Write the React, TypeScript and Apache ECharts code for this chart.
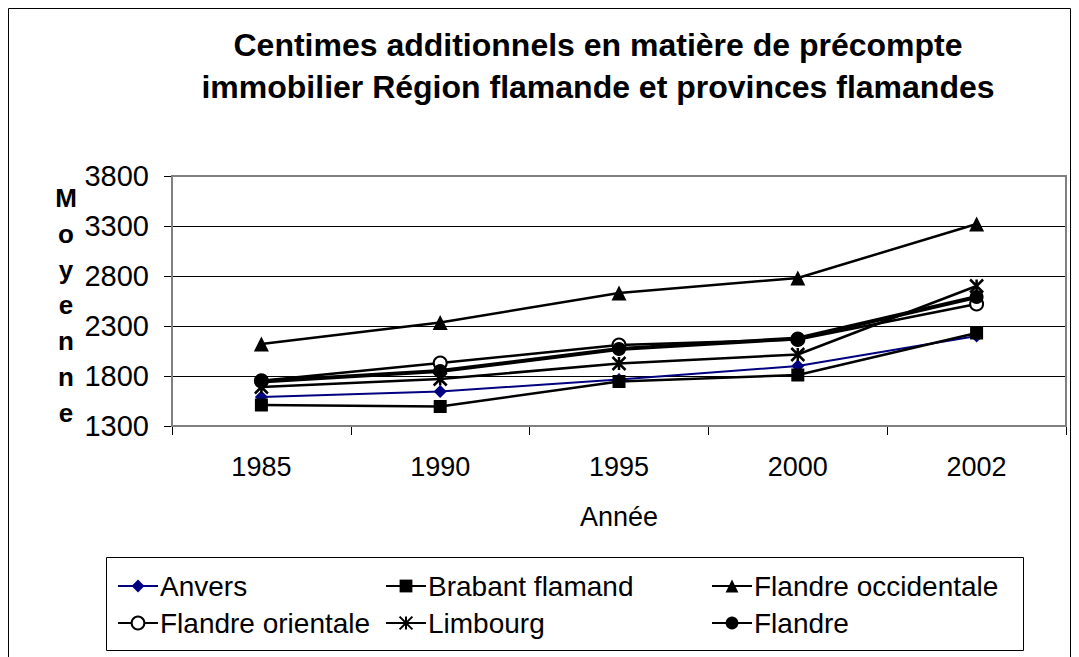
import React, { useEffect, useRef } from "react";
import * as echarts from "echarts";

const years = ["1985", "1990", "1995", "2000", "2002"];
const anvers = [1590, 1645, 1765, 1900, 2200];
const brabant = [1510, 1495, 1745, 1810, 2230];
const flandreOcc = [2120, 2335, 2630, 2780, 3320];
const flandreOr = [1752, 1930, 2110, 2165, 2520];
const limbourg = [1690, 1770, 1925, 2015, 2700];
const flandre = [1745, 1850, 2070, 2175, 2590];

const titleText = "Centimes additionnels en matière de précompte\nimmobilier Région flamande et provinces flamandes";
const yName = "Moyenne";
const xName = "Année";

const FONT = "'Liberation Sans', Arial, sans-serif";
const asterisk = "path://M0,0L10,10M10,0L0,10M5,0L5,10";

export default function App() {
  const ref = useRef<HTMLDivElement>(null);
  useEffect(() => {
    if (!ref.current) return;
    const chart = echarts.init(ref.current, undefined, { renderer: "svg" });
    const base = (name: string, data: number[], color: string, symbol: string, size: number, width: number, extra: any = {}) => ({
      name,
      type: "line",
      data,
      symbol,
      symbolSize: size,
      showAllSymbol: true,
      lineStyle: { color, width },
      itemStyle: { color, borderColor: color, borderWidth: 0 },
      emphasis: { disabled: true },
      ...extra,
    });
    chart.setOption({
      animation: false,
      backgroundColor: "#ffffff",
      title: {
        text: titleText,
        left: 593,
        top: 19,
        textAlign: "center",
        textStyle: { fontFamily: FONT, fontWeight: "bold", fontSize: 32, lineHeight: 42, color: "#000" },
      },
      graphic: [
        { type: "rect", shape: { x: 8.5, y: 8.5, width: 1062, height: 700 }, style: { fill: "none", stroke: "#000", lineWidth: 1 }, z: 0 },
        { type: "rect", shape: { x: 106.5, y: 557.5, width: 917, height: 93 }, style: { fill: "none", stroke: "#000", lineWidth: 1 }, z: 0 },
        { type: "rect", shape: { x: 172, y: 176, width: 894, height: 250 }, style: { fill: "none", stroke: "#808080", lineWidth: 2 }, z: 1 },
        {
          type: "text",
          x: 66,
          y: 180,
          style: { text: yName.split("").join("\n"), fontFamily: FONT, fontWeight: "bold", fontSize: 26, lineHeight: 35.8, align: "center", fill: "#000" },
        },
      ],
      grid: { left: 172, right: 13, top: 176, bottom: 231, containLabel: false },
      xAxis: {
        type: "category",
        data: years,
        boundaryGap: true,
        name: xName,
        nameLocation: "middle",
        nameGap: 77,
        nameTextStyle: { fontFamily: FONT, fontSize: 27, color: "#000" },
        axisLine: { lineStyle: { color: "#000", width: 1 } },
        axisTick: { show: true, inside: false, length: 9, alignWithLabel: false, lineStyle: { color: "#000" } },
        axisLabel: { fontFamily: FONT, fontSize: 27, color: "#000", margin: 27 },
        splitLine: { show: false },
      },
      yAxis: {
        type: "value",
        min: 1300,
        max: 3800,
        interval: 500,
        axisLine: { show: true, lineStyle: { color: "#000", width: 1 } },
        axisTick: { show: true, inside: false, length: 8, lineStyle: { color: "#000" } },
        axisLabel: { fontFamily: FONT, fontSize: 29, color: "#000", margin: 23, formatter: (v: number) => String(v) },
        splitLine: { show: true, lineStyle: { color: "#000", width: 1 } },
      },
      legend: [
        { data: ["Anvers", "Flandre orientale"], left: 112, top: 567 },
        { data: ["Brabant flamand", "Limbourg"], left: 380, top: 567 },
        { data: ["Flandre occidentale", "Flandre"], left: 706, top: 567 },
      ].map((l) => ({
        ...l,
        orient: "vertical",
        itemWidth: 40,
        itemHeight: 16,
        itemGap: 9,
        textStyle: { fontFamily: FONT, fontSize: 28, color: "#000", padding: [0, 0, 0, -3] },
        selectedMode: false,
      })),
      series: [
        base("Anvers", anvers, "#000080", "diamond", 13, 2),
        base("Brabant flamand", brabant, "#000", "rect", 13, 2.5),
        base("Flandre occidentale", flandreOcc, "#000", "triangle", 15, 2.5),
        base("Flandre orientale", flandreOr, "#000", "emptyCircle", 13, 2.5, {
          itemStyle: { color: "#000", borderColor: "#000", borderWidth: 2.5 },
        }),
        base("Limbourg", limbourg, "#000", asterisk, 13, 2.5, {
          itemStyle: { color: "none", borderColor: "#000", borderWidth: 2.5 },
        }),
        base("Flandre", flandre, "#000", "circle", 14, 4),
      ],
    });
    return () => chart.dispose();
  }, []);
  return <div ref={ref} style={{ position: "absolute", left: 0, top: 0, width: 1079, height: 657 }} />;
}
